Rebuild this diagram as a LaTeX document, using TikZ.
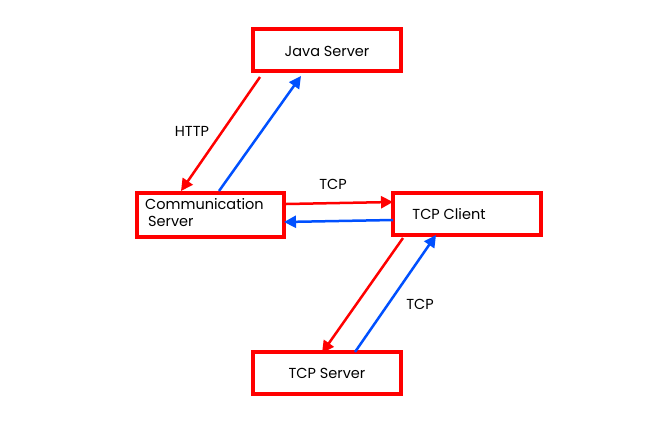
\documentclass[tikz,border=0pt]{standalone}
\usepackage{fontspec}
\setmainfont{Poppins}
\usetikzlibrary{arrows.meta}
\definecolor{bred}{RGB}{255,0,0}
\definecolor{bblue}{RGB}{0,80,255}
\tikzset{
  box/.style={draw=bred, line width=3.1pt, fill=white, inner sep=0pt},
  redarr/.style={draw=bred, line width=2.5pt, -{Triangle[length=12pt,width=12pt]}},
  bluearr/.style={draw=bblue, line width=2.5pt, -{Triangle[length=12pt,width=12pt]}},
  lbl/.style={font=\fontsize{14.5}{17}\selectfont, inner sep=0pt}
}
\begin{document}
\begin{tikzpicture}[x=1pt,y=-1pt]
\useasboundingbox (0,0) rectangle (659,437);
% boxes
\draw[box] (253,29) rectangle (401,71);
\node[lbl] (java) at (327,51) {Java Server};
\draw[box] (137,193) rectangle (284,237);
\draw[box] (393,193) rectangle (541,235);
\draw[box] (253,352) rectangle (401,394);
\node[lbl, anchor=west, align=left] (comm) at (145,213) {Communication\\\hspace*{3pt}Server};
\node[lbl] (client) at (449,214) {TCP Client};
\node[lbl] (server) at (327,373) {TCP Server};
% coordinates for arrow ends
\coordinate (a1) at (260,77);  \coordinate (a2) at (181,191);
\coordinate (b1) at (219,191); \coordinate (b2) at (301,76);
\coordinate (c1) at (286,204); \coordinate (c2) at (393,202);
\coordinate (d1) at (393,220); \coordinate (d2) at (284,222);
\coordinate (e1) at (403,238); \coordinate (e2) at (322,353);
\coordinate (f1) at (355,352); \coordinate (f2) at (436,235);
\draw[redarr] (a1) -- (a2);
\draw[bluearr] (b1) -- (b2);
\draw[redarr] (c1) -- (c2);
\draw[bluearr] (d1) -- (d2);
\draw[redarr] (e1) -- (e2);
\draw[bluearr] (f1) -- (f2);
% labels
\node[lbl] (http) at (192,131) {HTTP};
\node[lbl] (tcp1) at (333,184) {TCP};
\node[lbl] (tcp2) at (420,304) {TCP};
\end{tikzpicture}
\end{document}
